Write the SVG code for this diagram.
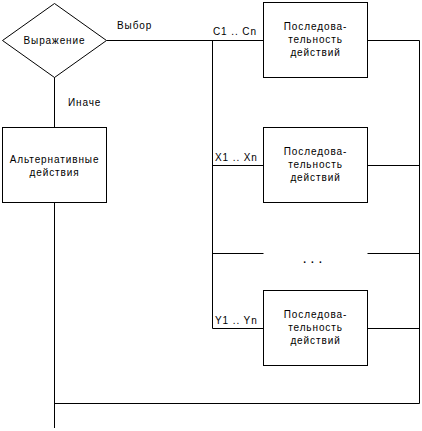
<svg xmlns="http://www.w3.org/2000/svg" width="422" height="431" viewBox="0 0 422 431">
<style>
.s{fill:#fff;stroke:#000;stroke-width:1}
.c{fill:none;stroke:#000;stroke-width:1}
text{font-family:"Liberation Sans",Arial,sans-serif;font-size:10px;fill:#000;letter-spacing:0.9px}
.m{text-anchor:middle}
</style>
<rect width="422" height="431" fill="#fff"/>
<g id="connectors">
<polyline class="c" points="106.5,40.5 263.5,40.5"/>
<polyline class="c" points="54.5,77 54.5,127.5"/>
<polyline class="c" points="54.5,202.5 54.5,428"/>
<polyline class="c" points="54.5,403.5 419.5,403.5 419.5,40.5 367.5,40.5"/>
<polyline class="c" points="212.5,40.5 212.5,328.5 263.5,328.5"/>
<polyline class="c" points="212.5,165.5 263.5,165.5"/>
<polyline class="c" points="367.5,165.5 419.5,165.5"/>
<polyline class="c" points="212.5,253.5 263.5,253.5"/>
<polyline class="c" points="367.5,253.5 419.5,253.5"/>
<polyline class="c" points="367.5,328.5 419.5,328.5"/>
<text x="117" y="29">Выбор</text>
<text x="68" y="106">Иначе</text>
<text x="213" y="35">C1 .. Cn</text>
<text x="215" y="161">X1 .. Xn</text>
<text x="215" y="324">Y1 .. Yn</text>
<text class="m" x="315" y="263" style="font-weight:bold;letter-spacing:5px">...</text>
</g>
<g id="expr">
<polygon class="s" points="2.5,40.5 54.5,3.5 106.5,40.5 54.5,77.5"/>
<text class="m" x="54.5" y="44">Выражение</text>
</g>
<g id="alt">
<rect class="s" x="2.5" y="127.5" width="104" height="75"/>
<text class="m" x="54.5" y="163">Альтернативные</text>
<text class="m" x="54.5" y="176">действия</text>
</g>
<g id="seq1">
<rect class="s" x="263.5" y="2.5" width="104" height="75"/>
<text class="m" x="315.5" y="30">Последова-</text>
<text class="m" x="315.5" y="43">тельность</text>
<text class="m" x="315.5" y="56">действий</text>
</g>
<g id="seq2">
<rect class="s" x="263.5" y="127.5" width="104" height="75"/>
<text class="m" x="315.5" y="155">Последова-</text>
<text class="m" x="315.5" y="168">тельность</text>
<text class="m" x="315.5" y="181">действий</text>
</g>
<g id="seq3">
<rect class="s" x="263.5" y="290.5" width="104" height="75"/>
<text class="m" x="315.5" y="318">Последова-</text>
<text class="m" x="315.5" y="331">тельность</text>
<text class="m" x="315.5" y="344">действий</text>
</g>
</svg>
